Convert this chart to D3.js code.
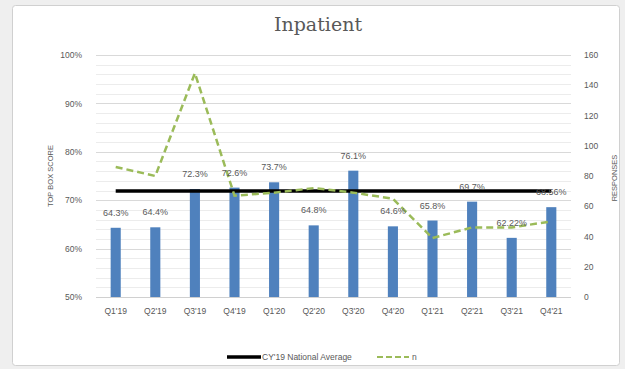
<!DOCTYPE html>
<html>
<head>
<meta charset="utf-8">
<script src="https://cdn.jsdelivr.net/npm/d3@7"></script>
<style>
  html, body { margin: 0; padding: 0; background: #efefef; }
  svg { display: block; }
  text { font-family: "Liberation Sans", Arial, sans-serif; fill: #595959; }
</style>
</head>
<body>
<svg id="chart" width="625" height="369"></svg>
<script>
// Quarterly top-box scores, response counts and the national benchmark
const quarters = ["Q1'19", "Q2'19", "Q3'19", "Q4'19", "Q1'20", "Q2'20", "Q3'20", "Q4'20", "Q1'21", "Q2'21", "Q3'21", "Q4'21"];
const scores = [64.3, 64.4, 72.3, 72.6, 73.7, 64.8, 76.1, 64.6, 65.8, 69.7, 62.22, 68.56];
const scoreLabels = ["64.3%", "64.4%", "72.3%", "72.6%", "73.7%", "64.8%", "76.1%", "64.6%", "65.8%", "69.7%", "62.22%", "68.56%"];
const responses = [86, 80, 148, 67, 69, 72, 69, 65, 39, 46, 46, 50];
const nationalAverage = 71.9;
const leftTicks = [50, 60, 70, 80, 90, 100];
const rightTicks = [0, 20, 40, 60, 80, 100, 120, 140, 160];

const svg = d3.select("#chart");
const plot = { left: 96, right: 571, top: 55, bottom: 297 };

// Chart frame
svg.append("rect")
  .attr("x", 12.5).attr("y", 5.5).attr("width", 607).attr("height", 360)
  .attr("rx", 3)
  .attr("fill", "#ffffff").attr("stroke", "#d0d0d0");

const x = d3.scaleBand().domain(quarters).range([plot.left, plot.right]).paddingInner(0.745).paddingOuter(0.37);
const yL = d3.scaleLinear().domain([50, 100]).range([plot.bottom, plot.top]);
const yR = d3.scaleLinear().domain([0, 160]).range([plot.bottom, plot.top]);

// Minor gridlines every 2%
const minor = d3.range(52, 100, 2).filter(v => v % 10 !== 0);
svg.append("g").selectAll("line").data(minor).join("line")
  .attr("x1", plot.left).attr("x2", plot.right)
  .attr("y1", d => Math.round(yL(d)) + 0.5).attr("y2", d => Math.round(yL(d)) + 0.5)
  .attr("stroke", "#ececec").attr("stroke-width", 1);

// Major gridlines
svg.append("g").selectAll("line").data(leftTicks.slice(1)).join("line")
  .attr("x1", plot.left).attr("x2", plot.right)
  .attr("y1", d => Math.round(yL(d)) + 0.5).attr("y2", d => Math.round(yL(d)) + 0.5)
  .attr("stroke", "#d9d9d9").attr("stroke-width", 1);

// Left axis
const leftAxis = svg.append("g")
  .attr("transform", `translate(${plot.left - 11},0)`)
  .call(d3.axisLeft(yL).tickValues(leftTicks).tickSize(0).tickFormat(d => d + "%"));
leftAxis.select(".domain").remove();
leftAxis.selectAll("text").style("font-size", "8.5px").attr("fill", "#6a6a6a").attr("dx", 0);

// Right axis
const rightAxis = svg.append("g")
  .attr("transform", `translate(${plot.right + 10},0)`)
  .call(d3.axisRight(yR).tickValues(rightTicks).tickSize(0));
rightAxis.select(".domain").remove();
rightAxis.selectAll("text").style("font-size", "8.5px").attr("fill", "#6a6a6a").attr("dx", 0);

// Bars
svg.append("g").selectAll("rect").data(quarters).join("rect")
  .attr("x", d => x(d))
  .attr("width", x.bandwidth())
  .attr("y", (d, i) => yL(scores[i]))
  .attr("height", (d, i) => yL(50) - yL(scores[i]))
  .attr("fill", "#4f81bd");

// Baseline
svg.append("line")
  .attr("x1", plot.left).attr("x2", plot.right)
  .attr("y1", plot.bottom + 0.5).attr("y2", plot.bottom + 0.5)
  .attr("stroke", "#d0d0d0");

// Category labels
const bottomAxis = svg.append("g")
  .attr("transform", `translate(0,${plot.bottom + 8})`)
  .call(d3.axisBottom(x).tickSize(0));
bottomAxis.select(".domain").remove();
bottomAxis.selectAll("text").style("font-size", "8.5px").attr("fill", "#595959");

// National average line
const cx = d => x(d) + x.bandwidth() / 2;
svg.append("line")
  .attr("x1", cx(quarters[0])).attr("x2", cx(quarters[quarters.length - 1]))
  .attr("y1", yL(nationalAverage)).attr("y2", yL(nationalAverage))
  .attr("stroke", "#000").attr("stroke-width", 3.5);

// Response count line
const line = d3.line().x((d, i) => cx(quarters[i])).y(d => yR(d));
svg.append("path").datum(responses)
  .attr("d", line)
  .attr("fill", "none").attr("stroke", "#9bbb59")
  .attr("stroke-width", 2.5).attr("stroke-dasharray", "7,4");

// Value labels
svg.append("g").selectAll("text").data(quarters).join("text")
  .attr("x", d => cx(d))
  .attr("y", (d, i) => yL(scores[i]) - 12)
  .attr("text-anchor", "middle")
  .style("font-size", "9px")
  .text((d, i) => scoreLabels[i]);

// Title
svg.append("text")
  .attr("x", 318).attr("y", 31)
  .attr("text-anchor", "middle")
  .style("font-family", "'DejaVu Serif', 'Liberation Serif', serif")
  .style("font-size", "19px")
  .text("Inpatient");

// Axis titles
svg.append("text")
  .attr("transform", `translate(53,176) rotate(-90)`)
  .attr("text-anchor", "middle")
  .style("font-size", "7.5px")
  .text("TOP BOX SCORE");
svg.append("text")
  .attr("transform", `translate(617,178) rotate(-90)`)
  .attr("text-anchor", "middle")
  .style("font-size", "7.5px")
  .text("RESPONSES");

// Legend
const lg = svg.append("g");
lg.append("line").attr("x1", 227).attr("x2", 261).attr("y1", 357).attr("y2", 357)
  .attr("stroke", "#000").attr("stroke-width", 3.5);
lg.append("text").attr("x", 262).attr("y", 360).style("font-size", "8.5px").text("CY'19 National Average");
lg.append("line").attr("x1", 377).attr("x2", 409).attr("y1", 357).attr("y2", 357)
  .attr("stroke", "#9bbb59").attr("stroke-width", 2).attr("stroke-dasharray", "6,3");
lg.append("text").attr("x", 412).attr("y", 360).style("font-size", "8.5px").text("n");
</script>
</body>
</html>
